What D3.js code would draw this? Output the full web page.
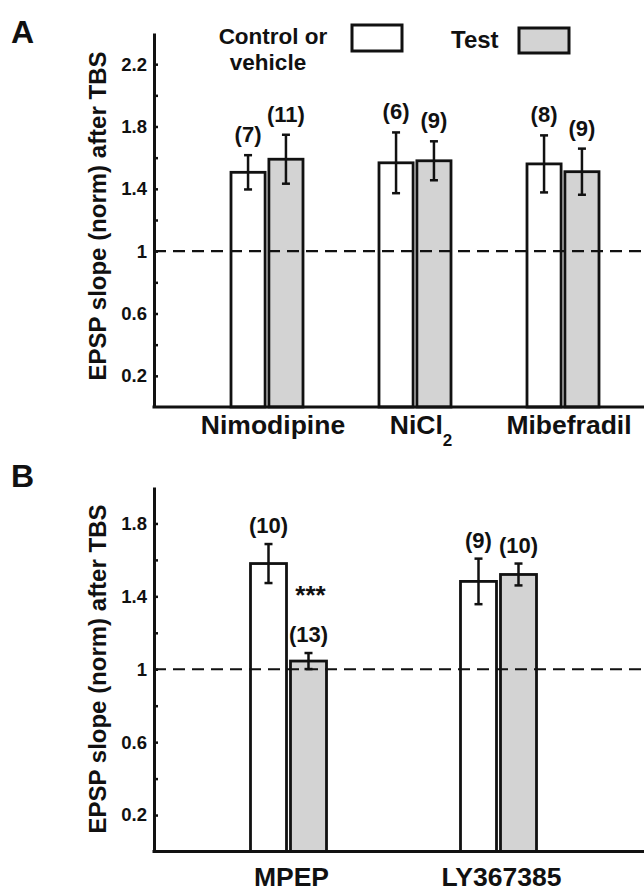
<!DOCTYPE html>
<html><head><meta charset="utf-8">
<script src="https://cdn.jsdelivr.net/npm/d3@7"></script>
<style>
html,body{margin:0;padding:0;background:#fff;}
svg text{font-family:"Liberation Sans",Arial,Helvetica,sans-serif;font-weight:bold;fill:#111;}
</style></head><body>
<script>
// ---- data ----
const seriesNames = ["Control or vehicle", "Test"];
const categoriesA = ["Nimodipine", "NiCl2", "Mibefradil"];
const controlA = [1.506, 1.567, 1.56];
const controlSeA = [0.11, 0.195, 0.183];
const controlNA = [7, 6, 8];
const testA = [1.59, 1.58, 1.51];
const testSeA = [0.157, 0.125, 0.148];
const testNA = [11, 9, 9];

const categoriesB = ["MPEP", "LY367385"];
const controlB = [1.58, 1.482];
const controlSeB = [0.107, 0.125];
const controlNB = [10, 9];
const testB = [1.045, 1.52];
const testSeB = [0.044, 0.06];
const testNB = [13, 10];

const ticksA = [0.2, 0.4, 0.6, 0.8, 1, 1.2, 1.4, 1.6, 1.8, 2.0, 2.2];
const tickLabelsA = ["0.2", "0.6", "1", "1.4", "1.8", "2.2"];
const ticksB = [0.2, 0.4, 0.6, 0.8, 1, 1.2, 1.4, 1.6, 1.8];
const tickLabelsB = ["0.2", "0.6", "1", "1.4", "1.8"];
const yTitle = "EPSP slope (norm) after TBS";
const baseline = 1;
const sigLabel = "***";

// ---- layout ----
const W = 644, H = 892;
const svg = d3.select("body").append("svg").attr("width", W).attr("height", H);
const fills = {"Control or vehicle": "#ffffff", "Test": "#d3d3d3"};
const axisX = 154;

function panel(opts) {
  const g = svg.append("g");
  const y = d3.scaleLinear().domain(opts.domain).range([opts.y0, opts.y1]);
  const x = d3.scalePoint().domain(opts.cats).range(opts.xr);
  const xi = d3.scaleBand().domain(seriesNames).range([-opts.inner / 2, opts.inner / 2]).paddingInner(opts.pad);

  const rows = [];
  opts.cats.forEach((c, i) => {
    rows.push({cat: c, s: seriesNames[0], v: opts.ctrl[i], se: opts.ctrlSe[i], n: opts.ctrlN[i], i});
    rows.push({cat: c, s: seriesNames[1], v: opts.test[i], se: opts.testSe[i], n: opts.testN[i], i});
  });
  const bx = d => x(d.cat) + xi(d.s);

  // bars
  g.selectAll("rect.bar").data(rows).join("rect").attr("class", "bar")
    .attr("x", bx).attr("width", xi.bandwidth())
    .attr("y", d => y(d.v)).attr("height", d => y(0) - y(d.v))
    .attr("fill", d => fills[d.s]).attr("stroke", "#111").attr("stroke-width", 2.8);

  // dashed baseline
  g.append("line").attr("x1", axisX).attr("x2", W).attr("y1", y(baseline)).attr("y2", y(baseline))
    .attr("stroke", "#111").attr("stroke-width", 2.2).attr("stroke-dasharray", "12,7");

  // error bars
  const eb = g.selectAll("g.eb").data(rows).join("g").attr("class", "eb")
    .attr("transform", d => `translate(${bx(d) + xi.bandwidth() / 2},0)`);
  eb.append("line").attr("x1", 0).attr("x2", 0).attr("y1", d => y(d.v + d.se)).attr("y2", d => y(d.v - d.se))
    .attr("stroke", "#111").attr("stroke-width", 2.5);
  eb.selectAll("line.cap").data(d => [d.v + d.se, d.v - d.se]).join("line").attr("class", "cap")
    .attr("x1", -4).attr("x2", 4).attr("y1", v => y(v)).attr("y2", v => y(v))
    .attr("stroke", "#111").attr("stroke-width", 2.5);

  // n labels
  g.selectAll("text.n").data(rows).join("text").attr("class", "n")
    .attr("x", d => bx(d) + xi.bandwidth() / 2).attr("y", d => y(d.v + d.se) - opts.nGap)
    .attr("text-anchor", "middle").style("font-size", "22px").text(d => `(${d.n})`);

  // y axis
  const ax = d3.axisLeft(y).tickValues(opts.ticks).tickSizeInner(-4).tickSizeOuter(0).tickPadding(7)
    .tickFormat(v => { const s = d3.format("~g")(v); return opts.tickLabels.includes(s) ? s : ""; });
  const ag = g.append("g").attr("transform", `translate(${axisX},0)`).call(ax);
  ag.select(".domain").attr("stroke", "#111").attr("stroke-width", 3);
  ag.selectAll(".tick line").attr("stroke", "#111").attr("stroke-width", 2.5);
  ag.selectAll(".tick text").attr("fill", "#111").style("font-size", "18.5px")
    .style("font-family", '"Liberation Sans",Arial,sans-serif').style("font-weight", "bold");

  // x axis line
  g.append("line").attr("x1", axisX - 1.5).attr("x2", W).attr("y1", y(0)).attr("y2", y(0))
    .attr("stroke", "#111").attr("stroke-width", 3);

  // category labels
  const cl = g.selectAll("text.cat").data(opts.cats).join("text").attr("class", "cat")
    .attr("x", c => x(c) + opts.catDx).attr("y", opts.catY).attr("text-anchor", "middle").style("font-size", "26.5px");
  cl.each(function(c) {
    const m = c.match(/^(.*?)(\d)$/);
    const t = d3.select(this);
    if (m && !/^LY/.test(c)) {
      t.append("tspan").text(m[1]);
      t.append("tspan").attr("dy", 12).style("font-size", "17px").text(m[2]);
    } else t.text(c);
  });

  // y title
  g.append("text").attr("transform", `translate(106,${opts.titleY}) rotate(-90)`)
    .attr("text-anchor", "middle").style("font-size", "24px").text(yTitle);

  // panel letter
  g.append("text").attr("x", 11).attr("y", opts.letterY).style("font-size", "32px").text(opts.letter);

  return {g, x, xi, y, rows};
}

const pA = panel({
  cats: categoriesA, domain: [0, 2.4], y0: 407, y1: 33, xr: [267, 563], inner: 72, pad: 0.1,
  ctrl: controlA, ctrlSe: controlSeA, ctrlN: controlNA, test: testA, testSe: testSeA, testN: testNA,
  ticks: ticksA, tickLabels: tickLabelsA, nGap: 13, catY: 434, catDx: 6, titleY: 216, letter: "A", letterY: 43
});
const pB = panel({
  cats: categoriesB, domain: [0, 2.0], y0: 851.5, y1: 487, xr: [288.5, 498.5], inner: 76, pad: 0.1,
  ctrl: controlB, ctrlSe: controlSeB, ctrlN: controlNB, test: testB, testSe: testSeB, testN: testNB,
  ticks: ticksB, tickLabels: tickLabelsB, nGap: 11, catY: 886, catDx: 3, titleY: 669, letter: "B", letterY: 487
});

// significance marker (MPEP test)
{
  const d = pB.rows[1];
  const c = pB.rows[0];
  pB.g.append("text").attr("x", pB.x(d.cat) + pB.xi(d.s) + pB.xi.bandwidth() / 2 + 2)
    .attr("y", pB.y(c.v - c.se) + 21).attr("text-anchor", "middle").style("font-size", "26px").text(sigLabel);
}

// legend
const lg = svg.append("g");
lg.append("text").attr("x", 273).attr("y", 44).attr("text-anchor", "middle").style("font-size", "22.5px").text("Control or");
lg.append("text").attr("x", 268).attr("y", 70).attr("text-anchor", "middle").style("font-size", "22.5px").text("vehicle");
lg.append("rect").attr("x", 352).attr("y", 25).attr("width", 50).attr("height", 26)
  .attr("fill", fills[seriesNames[0]]).attr("stroke", "#111").attr("stroke-width", 3);
lg.append("text").attr("x", 451).attr("y", 48).style("font-size", "24px").text(seriesNames[1]);
lg.append("rect").attr("x", 519).attr("y", 28).attr("width", 50).attr("height", 25)
  .attr("fill", fills[seriesNames[1]]).attr("stroke", "#111").attr("stroke-width", 3);
</script>
</body></html>
